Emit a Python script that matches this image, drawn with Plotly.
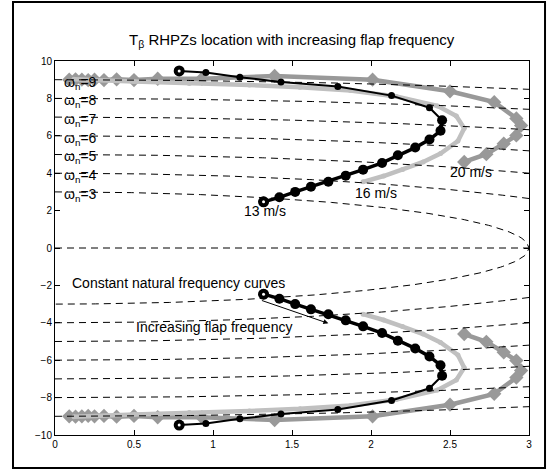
import numpy as np
import plotly.graph_objects as go

# Right-half-plane zero locations (upper branch; lower branch is the conjugate)
v13_x = [1.32, 1.42, 1.52, 1.62, 1.73, 1.84, 1.95, 2.07, 2.17, 2.28, 2.37, 2.44, 2.45,
         2.37, 2.13, 1.79, 1.43, 1.17, 0.955, 0.786]
v13_y = [2.47, 2.71, 3.00, 3.28, 3.54, 3.87, 4.19, 4.55, 4.96, 5.37, 5.80, 6.27, 6.83,
         7.50, 8.15, 8.64, 8.88, 9.13, 9.38, 9.47]

v16_x = [1.95, 2.08, 2.20, 2.33, 2.44, 2.55, 2.59, 2.54, 2.42, 2.16, 1.87, 1.55, 1.23,
         0.85, 0.50, 0.12]
v16_y = [3.54, 3.85, 4.20, 4.60, 5.05, 5.72, 6.40, 7.06, 7.60, 8.10, 8.42, 8.60, 8.72,
         8.80, 8.90, 9.02]

v20_x = [2.59, 2.73, 2.84, 2.92, 2.95, 2.92, 2.78, 2.50, 2.01, 1.39, 0.93, 0.65, 0.50,
         0.39, 0.31, 0.25, 0.21, 0.17, 0.13, 0.09]
v20_y = [4.60, 5.02, 5.58, 6.02, 6.55, 6.93, 7.80, 8.38, 9.00, 9.20, 9.05, 9.05, 8.98,
         9.02, 8.98, 9.00, 8.98, 9.00, 9.02, 9.00]

omega_n = [3, 4, 5, 6, 7, 8, 9]

speed_labels = ["13 m/s", "16 m/s", "20 m/s"]
speed_label_x = [1.33, 2.03, 2.635]
speed_label_y = [2.0, 2.92, 4.08]

x_ticks = [0, 0.5, 1, 1.5, 2, 2.5, 3]
x_tick_text = ["0", "0.5", "1", "1.5", "2", "2.5", "3"]
y_ticks = [-10, -8, -6, -4, -2, 0, 2, 4, 6, 8, 10]

FONT = "Liberation Sans, Arial, Helvetica, sans-serif"
BLACK = "#000000"
LIGHT = "#c0c0c0"
DARK = "#999999"

fig = go.Figure()


def both_halves(xs, ys):
    """Upper branch, a gap, then the conjugate (lower) branch."""
    return list(xs) + [None] + list(xs), list(ys) + [None] + [-v for v in ys]


# 20 m/s (dark grey, diamonds)
x, y = both_halves(v20_x, v20_y)
fig.add_trace(go.Scatter(x=x, y=y, mode="lines+markers",
                         line=dict(color=DARK, width=4.5),
                         marker=dict(symbol="diamond", size=11, color=DARK),
                         showlegend=False, hoverinfo="skip"))

# 16 m/s (light grey, small points)
x, y = both_halves(v16_x, v16_y)
fig.add_trace(go.Scatter(x=x, y=y, mode="lines+markers",
                         line=dict(color=LIGHT, width=4.5),
                         marker=dict(size=5, color=LIGHT),
                         showlegend=False, hoverinfo="skip"))

# 13 m/s (black circles): dense outgoing part, then the sparser return part
n_dense = 13
x, y = both_halves(v13_x[:n_dense], v13_y[:n_dense])
fig.add_trace(go.Scatter(x=x, y=y, mode="lines+markers",
                         line=dict(color=BLACK, width=3.5),
                         marker=dict(size=10, color=BLACK),
                         showlegend=False, hoverinfo="skip"))
x, y = both_halves(v13_x[n_dense - 1:], v13_y[n_dense - 1:])
fig.add_trace(go.Scatter(x=x, y=y, mode="lines+markers",
                         line=dict(color=BLACK, width=2),
                         marker=dict(size=7, color=BLACK),
                         showlegend=False, hoverinfo="skip"))

# open-centred end markers
ends_x = [v13_x[0], v13_x[-1], v13_x[0], v13_x[-1]]
ends_y = [v13_y[0], v13_y[-1], -v13_y[0], -v13_y[-1]]
fig.add_trace(go.Scatter(x=ends_x, y=ends_y, mode="markers",
                         marker=dict(size=11, color=BLACK),
                         showlegend=False, hoverinfo="skip"))
fig.add_trace(go.Scatter(x=ends_x, y=ends_y, mode="markers",
                         marker=dict(size=3, color="white"),
                         showlegend=False, hoverinfo="skip"))

# constant natural frequency curves |s| = omega_n, plus the real axis
xs = np.linspace(0, 3, 200)
for w in omega_n:
    xc = xs[xs <= w]
    yc = np.sqrt(np.clip(w ** 2 - xc ** 2, 0, None))
    if w <= 3:
        cx = list(xc) + list(xc[::-1])
        cy = list(yc) + list(-yc[::-1])
    else:
        cx = list(xc) + [None] + list(xc)
        cy = list(yc) + [None] + list(-yc)
    fig.add_trace(go.Scatter(x=cx, y=cy, mode="lines",
                             line=dict(color=BLACK, width=1, dash="7px,5px"),
                             showlegend=False, hoverinfo="skip"))
fig.add_trace(go.Scatter(x=[0, 3], y=[0, 0], mode="lines",
                         line=dict(color=BLACK, width=1, dash="7px,5px"),
                         showlegend=False, hoverinfo="skip"))

annotations = []
for w in omega_n:
    annotations.append(dict(x=0.042, y=w - 0.15, xref="x", yref="y",
                            text=f"\u03c9<sub>n</sub>=" + str(w), showarrow=False,
                            xanchor="left", yanchor="middle",
                            font=dict(family=FONT, size=14, color=BLACK)))
for t, lx, ly in zip(speed_labels, speed_label_x, speed_label_y):
    annotations.append(dict(x=lx, y=ly, xref="x", yref="y", text=t, showarrow=False,
                            xanchor="center", yanchor="middle",
                            font=dict(family=FONT, size=14, color=BLACK)))
annotations.append(dict(x=0.095, y=-1.89, xref="x", yref="y",
                        text="Constant natural frequency curves", showarrow=False,
                        xanchor="left", yanchor="middle",
                        font=dict(family=FONT, size=14, color=BLACK)))
annotations.append(dict(x=0.502, y=-4.2, xref="x", yref="y",
                        text="Increasing flap frequency", showarrow=False,
                        xanchor="left", yanchor="middle",
                        font=dict(family=FONT, size=14, color=BLACK)))
annotations.append(dict(x=1.73, y=-4.03, xref="x", yref="y", ax=1.3, ay=-2.78,
                        axref="x", ayref="y", text="", showarrow=True,
                        arrowhead=2, arrowsize=1, arrowwidth=1, arrowcolor=BLACK))
annotations.append(dict(x=0.5, y=1.056, xref="paper", yref="paper",
                        text="T<sub>\u03b2</sub> RHPZs location with increasing flap frequency",
                        showarrow=False, xanchor="center", yanchor="middle",
                        font=dict(family=FONT, size=15, color=BLACK)))

# outer figure frame
frame = dict(type="rect", xref="paper", yref="paper",
             x0=-0.0886, x1=1.0338, y0=-0.088, y1=1.158,
             line=dict(color=BLACK, width=2), fillcolor="rgba(0,0,0,0)")

axis_common = dict(showline=True, linecolor=BLACK, linewidth=1, mirror="ticks",
                   ticks="inside", ticklen=5, tickcolor=BLACK, showgrid=False,
                   zeroline=False, tickfont=dict(family=FONT, size=10, color=BLACK))

fig.update_layout(
    width=558, height=470,
    margin=dict(l=55, r=29, t=61, b=35),
    paper_bgcolor="white", plot_bgcolor="white",
    xaxis=dict(range=[0, 3], tickvals=x_ticks, ticktext=x_tick_text, **axis_common),
    yaxis=dict(range=[-10, 10], tickvals=y_ticks, **axis_common),
    annotations=annotations,
    shapes=[frame],
    showlegend=False,
)

fig.write_html("out.html")
